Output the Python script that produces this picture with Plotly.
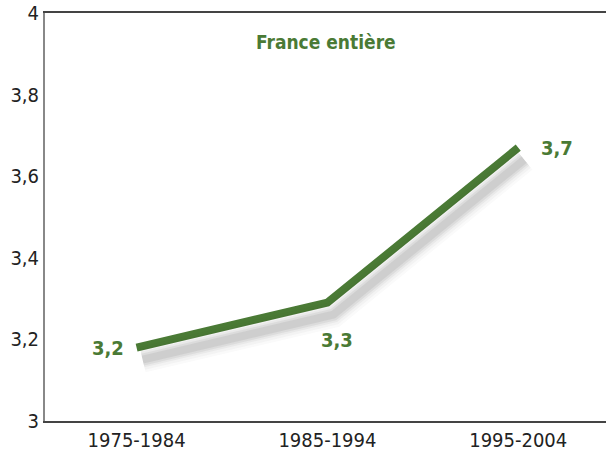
import plotly.graph_objects as go

categories = ["1975-1984", "1985-1994", "1995-2004"]
values = [3.18, 3.29, 3.67]
value_labels = ["3,2", "3,3", "3,7"]
ytick_vals = [3, 3.2, 3.4, 3.6, 3.8, 4]
ytick_text = ["3", "3,2", "3,4", "3,6", "3,8", "4"]
title_text = "France entière"

GREEN = "#4a7a35"
FONT = "DejaVu Sans Condensed, sans-serif"

XR = [-0.48, 2.46]
YR = [3, 4]

fig = go.Figure()

# soft shadow drawn on overlaid axes shifted slightly (down-right)
shadow_layers = [(26, 0.025), (21, 0.035), (16, 0.05), (12, 0.065), (8, 0.08)]
for i, (w, op) in enumerate(shadow_layers):
    fig.add_trace(go.Scatter(
        x=[0, 1, 2], y=values, mode="lines",
        line=dict(color=f"rgba(50,50,50,{op})", width=w),
        xaxis="x2", yaxis="y2", hoverinfo="skip", showlegend=False))

fig.add_trace(go.Scatter(
    x=categories, y=values, mode="lines",
    line=dict(color=GREEN, width=8), showlegend=False, hoverinfo="skip"))

# labels
label_pos = [
    dict(xanchor="right", yanchor="middle", xshift=-11, yshift=0),
    dict(xanchor="center", yanchor="top", xshift=10, yshift=-23),
    dict(xanchor="left", yanchor="middle", xshift=21, yshift=0),
]
for c, v, t, p in zip(categories, values, value_labels, label_pos):
    fig.add_annotation(x=c, y=v, text=f"<b>{t}</b>", showarrow=False,
                       font=dict(family=FONT, size=20, color=GREEN), **p)

fig.add_annotation(xref="paper", yref="paper", x=0.5, y=0.93,
                   text=f"<b>{title_text}</b>", showarrow=False,
                   xanchor="center", yanchor="middle",
                   font=dict(family=FONT, size=19, color=GREEN))

# shifted ranges to produce shadow offset (~6px right, ~12px down)
dx = 6 / 561 * (XR[1] - XR[0])
dy = 12 / 408 * (YR[1] - YR[0])

fig.update_layout(
    width=606, height=455,
    margin=dict(l=45, r=0, t=13, b=34),
    paper_bgcolor="white", plot_bgcolor="white",
    separators=",.",
    font=dict(family=FONT, size=20, color="#222"),
    xaxis=dict(type="category", range=XR, showgrid=False, zeroline=False,
               showline=True, linecolor="#444", linewidth=1.5, mirror=True,
               ticks="", tickfont=dict(family=FONT, size=20, color="#222")),
    yaxis=dict(range=YR, tickvals=ytick_vals, ticktext=ytick_text,
               showgrid=False, zeroline=False, showline=True,
               linecolor="#888", linewidth=2, ticks="",
               tickfont=dict(family=FONT, size=20, color="#222")),
    xaxis2=dict(overlaying="x", range=[XR[0] - dx, XR[1] - dx], visible=False),
    yaxis2=dict(overlaying="y", range=[YR[0] + dy, YR[1] + dy], visible=False),
)

fig.write_html(
    "out.html",
    config={"displayModeBar": False},
    post_script="document.body.style.margin='0px';document.body.style.overflow='hidden';",
)
